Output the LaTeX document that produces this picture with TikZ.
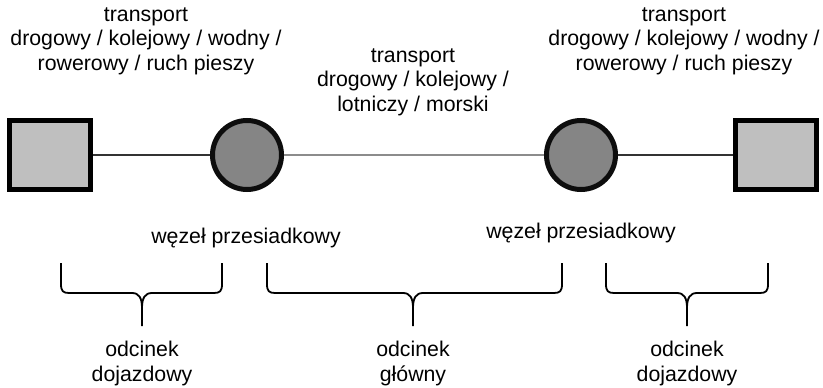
\documentclass[tikz,border=0pt]{standalone}
\usepackage{fontspec}
\setmainfont{Liberation Sans}
\begin{document}
\begin{tikzpicture}[x=1pt,y=-1pt,
  label/.style={font=\fontsize{21.3}{24.5}\selectfont, align=center, anchor=base, inner sep=0pt},
  terminal/.style={draw=black, line width=5pt, fill=black!25, minimum width=81pt, minimum height=69pt, inner sep=0pt},
  hub/.style={circle, draw=black!95, line width=5pt, fill=black!48, minimum size=69pt, inner sep=0pt},
  feeder/.style={draw=black!80, line width=2pt},
  trunk/.style={draw=black!45, line width=2pt},
  bracestroke/.style={draw=black, line width=1.8pt}
]
\useasboundingbox[fill=white] (0,0) rectangle (823,388);

% terminals and interchange hubs
\node[terminal] (sqL) at (50,155) {};
\node[terminal] (sqR) at (776,155) {};
\node[hub] (hubL) at (247,155) {};
\node[hub] (hubR) at (581,155) {};

% links
\draw[feeder] (sqL) -- (hubL);
\draw[trunk] (hubL) -- (hubR);
\draw[feeder] (hubR) -- (sqR);

% mode descriptions (anchored at the baseline of the last line)
\node[label] (modeL) at (146,70) {transport\\drogowy / kolejowy / wodny /\\rowerowy / ruch pieszy};
\node[label] (modeM) at (413,111) {transport\\drogowy / kolejowy /\\lotniczy / morski};
\node[label] (modeR) at (684,70) {transport\\drogowy / kolejowy / wodny /\\rowerowy / ruch pieszy};

% hub names
\node[label] (nameL) at (246,243) {węzeł przesiadkowy};
\node[label] (nameR) at (581,238) {węzeł przesiadkowy};

% curly braces: left end, right end, tip
\newcommand\segbrace[3]{%
  \draw[bracestroke] (#1,263) -- (#1,284)
    .. controls (#1,291) and ({#1+2},293) .. ({#1+8},293)
    -- ({#3-10},293)
    .. controls ({#3-3},293) and (#3,298) .. (#3,308)
    -- (#3,326);
  \draw[bracestroke] (#3,308)
    .. controls (#3,298) and ({#3+3},293) .. ({#3+10},293)
    -- ({#2-8},293)
    .. controls ({#2-2},293) and (#2,291) .. (#2,284)
    -- (#2,263);
}
\segbrace{61}{222}{142}
\segbrace{267}{562}{413}
\segbrace{606}{768}{687}

% segment names
\node[label] (segL) at (142,381) {odcinek\\dojazdowy};
\node[label] (segM) at (413,381) {odcinek\\główny};
\node[label] (segR) at (687,381) {odcinek\\dojazdowy};
\end{tikzpicture}
\end{document}
